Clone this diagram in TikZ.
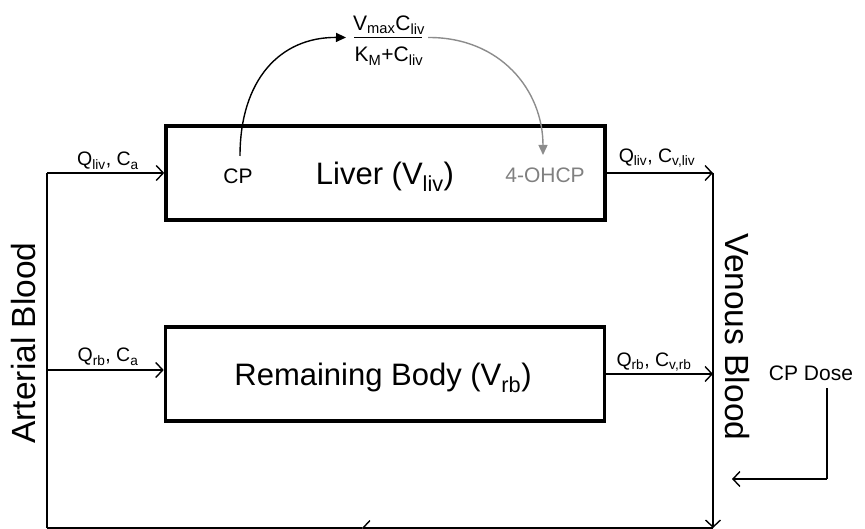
\documentclass[tikz,border=0pt]{standalone}
\usepackage{fontspec}
\setmainfont{Liberation Sans}
\usetikzlibrary{arrows.meta}
\begin{document}
\begin{tikzpicture}[x=1pt,y=-1pt,
  compbox/.style={draw, line width=3.6pt, inner sep=0pt, minimum width=439pt, minimum height=94pt},
  conn/.style={line width=1.4pt},
  flow/.style={conn, -{Straight Barb[length=7pt,width=15pt]}},
  curv/.style={line width=1.4pt, -{Triangle[length=10pt,width=9pt]}},
  small/.style={font=\fontsize{19.5}{22}\selectfont, inner sep=0pt},
  mid/.style={font=\fontsize{21}{25}\selectfont, inner sep=0pt},
  big/.style={font=\fontsize{31}{36}\selectfont, inner sep=0pt},
  side/.style={font=\fontsize{33.5}{38}\selectfont, inner sep=0pt}
]
\useasboundingbox (0,0) rectangle (865,529);
% compartments
\node[compbox] (liv) at (385.5,172.75) {};
\node[compbox] (rb) at (385,373.75) {};
\node[big] (livtxt) at (385,177) {Liver (V\textsubscript{liv})};
\node[big] (rbtxt) at (383,378) {Remaining Body (V\textsubscript{rb})};
\node[mid] (cp) at (238,176) {CP};
\node[mid, text=gray] (oh) at (545,175) {4-OHCP};
% fraction
\node[mid, anchor=base] (num) at (389,30.5) {V\textsubscript{max}C\textsubscript{liv}};
\node[mid, anchor=base] (den) at (389,62) {K\textsubscript{M}+C\textsubscript{liv}};
\coordinate (fl) at (354,37.5);
\coordinate (fr) at (422,37.5);
\draw[line width=1.3pt] (fl) -- (fr);
% coordinates of the circulation
\coordinate (a1) at (47,173);
\coordinate (a2) at (47,370);
\coordinate (a3) at (47,528);
\coordinate (v1) at (713,173);
\coordinate (v2) at (713,374);
\coordinate (v3) at (713,528);
\coordinate (bm) at (362,528);
\coordinate (dtop) at (827,388);
\coordinate (dcorner) at (827,479);
\coordinate (dend) at (732,479);
\coordinate (cps) at (240,156);
\coordinate (ohe) at (543,155);
% flows
\draw[conn] (a3) -- (a1);
\draw[flow] (a1) -- (a1 -| liv.west);
\draw[flow] (a2) -- (a2 -| rb.west);
\draw[flow] (liv.east |- v1) -- (v1);
\draw[flow] (rb.east |- v2) -- (v2);
\draw[flow] (v1) -- (v3);
\draw[flow] (v3) -- (bm);
\draw[conn] (bm) -- (a3);
\draw[conn] (dtop) -- (dcorner);
\draw[flow] (dcorner) -- (dend);
% metabolism curves
\draw[curv] (cps) .. controls (240,80) and (280,37) .. ([xshift=-8pt]fl);
\draw[curv, draw=gray!90] ([xshift=6pt]fr) .. controls (500,37) and (543,90) .. (ohe);
% labels
\node[small] (l1) at (108,161) {Q\textsubscript{liv}, C\textsubscript{a}};
\node[small] (l2) at (108,357) {Q\textsubscript{rb}, C\textsubscript{a}};
\node[small] (l3) at (657,158) {Q\textsubscript{liv}, C\textsubscript{v,liv}};
\node[small] (l4) at (654,362) {Q\textsubscript{rb}, C\textsubscript{v,rb}};
\node[mid] (dose) at (811,373) {CP Dose};
\node[side, rotate=90] (art) at (24,343) {Arterial Blood};
\node[side, rotate=-90] (ven) at (737,337) {Venous Blood};
\end{tikzpicture}
\end{document}
